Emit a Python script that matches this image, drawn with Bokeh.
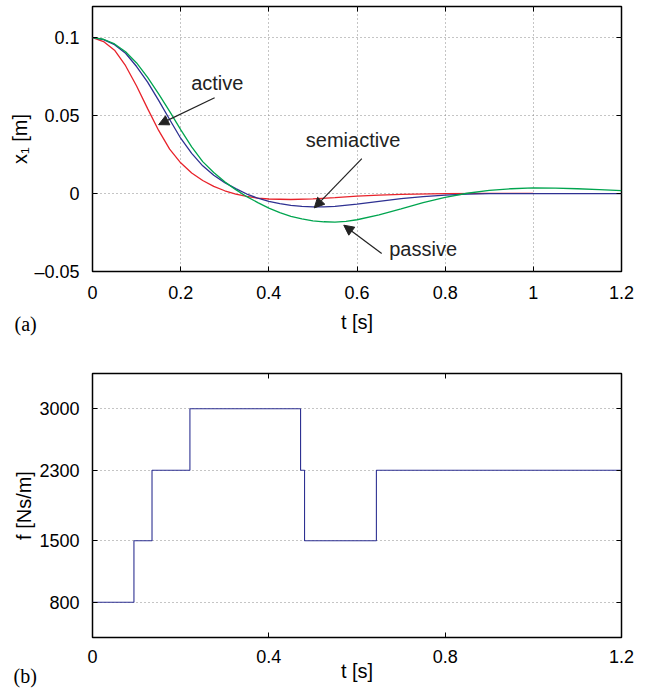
from bokeh.plotting import figure
from bokeh.models import LinearAxis, FixedTicker, Arrow, NormalHead, Label, Range1d, Title
from bokeh.layouts import column
from bokeh.embed import file_html
from bokeh.resources import INLINE

# ---------------- data: (a) displacement x1 [m] ----------------
t_active = [0, 0.025, 0.05, 0.075, 0.1, 0.125, 0.15, 0.175, 0.2, 0.225, 0.25, 0.275,
            0.3, 0.325, 0.35, 0.375, 0.4, 0.45, 0.5, 0.55, 0.6, 0.65, 0.7, 0.8, 0.9, 1.0]
x_active = [0.1000, 0.0975, 0.0920, 0.0820, 0.0690, 0.0545, 0.0405, 0.0285, 0.0197, 0.0132,
            0.0084, 0.0046, 0.0018, -0.0003, -0.0018, -0.0029, -0.0035, -0.0038, -0.0034,
            -0.0026, -0.0017, -0.0010, -0.0005, 0.0, 0.0001, 0.0001]

t_semi = [0, 0.025, 0.05, 0.075, 0.1, 0.125, 0.15, 0.175, 0.2, 0.225, 0.25, 0.275, 0.3,
          0.325, 0.35, 0.375, 0.4, 0.425, 0.45, 0.475, 0.5, 0.525, 0.55, 0.6, 0.65, 0.7,
          0.75, 0.8, 0.85, 0.9, 1.0, 1.1, 1.2]
x_semi = [0.1000, 0.0988, 0.0955, 0.0900, 0.0815, 0.0715, 0.0598, 0.0475, 0.0355, 0.0258,
          0.0178, 0.0117, 0.0070, 0.0032, -0.0003, -0.0030, -0.0050, -0.0065, -0.0076,
          -0.0082, -0.0085, -0.0085, -0.0082, -0.0068, -0.0050, -0.0033, -0.0020, -0.0010,
          -0.0004, -0.0001, 0.0, 0.0, 0.0]

t_passive = [0, 0.025, 0.05, 0.075, 0.1, 0.125, 0.15, 0.175, 0.2, 0.225, 0.25, 0.275, 0.3,
             0.325, 0.35, 0.375, 0.4, 0.425, 0.45, 0.475, 0.5, 0.525, 0.55, 0.575, 0.6,
             0.65, 0.7, 0.75, 0.8, 0.85, 0.9, 0.95, 1.0, 1.05, 1.1, 1.15, 1.2]
x_passive = [0.1000, 0.0990, 0.0960, 0.0910, 0.0838, 0.0745, 0.0640, 0.0527, 0.0410, 0.0300,
             0.0205, 0.0135, 0.0075, 0.0025, -0.0020, -0.0058, -0.0093, -0.0122, -0.0146,
             -0.0163, -0.0175, -0.0181, -0.0183, -0.0179, -0.0168, -0.0137, -0.0098, -0.0058,
             -0.0024, 0.0002, 0.0020, 0.0031, 0.0036, 0.0035, 0.0031, 0.0025, 0.0019]

xa_ticks = [0, 0.2, 0.4, 0.6, 0.8, 1.0, 1.2]
xa_tick_labels = ["0", "0.2", "0.4", "0.6", "0.8", "1", "1.2"]
ya_ticks = [-0.05, 0, 0.05, 0.1]
ya_tick_labels = ["\u20130.05", "0", "0.05", "0.1"]

# annotations (text, text position, arrow tail, arrow head)
ann_text = ["active", "semiactive", "passive"]
ann_tx = [0.283, 0.591, 0.750]
ann_ty = [0.0712, 0.0346, -0.0355]
arr_x0 = [0.277, 0.611, 0.656]
arr_y0 = [0.0615, 0.0224, -0.0385]
arr_x1 = [0.150, 0.503, 0.570]
arr_y1 = [0.0442, -0.0092, -0.0203]

# ---------------- data: (b) damping coefficient f [Ns/m] ----------------
t_switch = [0, 0.094, 0.135, 0.221, 0.472, 0.481, 0.644, 1.2]
f_level = [800, 1500, 2300, 3000, 2300, 1500, 2300, 2300]
xb_ticks = [0, 0.4, 0.8, 1.2]
xb_tick_labels = ["0", "0.4", "0.8", "1.2"]
yb_ticks = [800, 1500, 2300, 3000]

panel_tags = ["(a)", "(b)"]

FONT = "Liberation Sans"
SERIF = "Liberation Serif"
RED = "#e8232b"
BLUE = "#2e3192"
GREEN = "#00a54f"


def style_axis(ax, ticks, labels=None, show_labels=True, size="18px"):
    ax.ticker = FixedTicker(ticks=ticks)
    if labels is not None:
        ax.major_label_overrides = {t: l for t, l in zip(ticks, labels)}
    ax.axis_line_color = None
    ax.major_tick_in = 5
    ax.major_tick_out = 0
    ax.major_tick_line_color = "black"
    ax.major_tick_line_width = 1
    ax.minor_tick_line_color = None
    ax.major_label_text_font = FONT
    ax.major_label_text_color = "black"
    ax.axis_label_text_font = FONT
    ax.axis_label_text_font_style = "normal"
    ax.axis_label_text_font_size = "20px"
    ax.axis_label_text_color = "black"
    if show_labels:
        ax.major_label_text_font_size = size
    else:
        ax.major_label_text_font_size = "0px"
        ax.major_label_standoff = 0


def make_fig(xr, yr, fh, top, bottom):
    p = figure(frame_width=529, frame_height=fh, x_range=xr, y_range=yr,
               output_backend="svg", toolbar_location=None,
               min_border_left=92, min_border_right=16,
               min_border_top=top, min_border_bottom=bottom)
    p.outline_line_color = "black"
    p.outline_line_width = 1.5
    p.background_fill_color = "white"
    p.border_fill_color = "white"
    return p


def panel_tag(text, offset, standoff):
    return Title(text=text, align="left", vertical_align="top", offset=offset,
                 standoff=standoff, text_font=SERIF, text_font_size="20px",
                 text_font_style="normal", text_color="black")


# ---------------- figure (a) ----------------
p1 = make_fig(Range1d(0, 1.2), Range1d(-0.05, 0.12), 265, 6, 70)
style_axis(p1.xaxis[0], xa_ticks, xa_tick_labels)
style_axis(p1.yaxis[0], ya_ticks, ya_tick_labels)
p1.xaxis[0].major_label_standoff = 14
p1.yaxis[0].major_label_standoff = 13
p1.xaxis[0].axis_label = "t [s]"
p1.xaxis[0].axis_label_standoff = 9
p1.yaxis[0].axis_label = "x\u2081 [m]"
p1.yaxis[0].axis_label_standoff = 0
ax_top = LinearAxis()
style_axis(ax_top, xa_ticks, show_labels=False)
p1.add_layout(ax_top, "above")
ax_right = LinearAxis()
style_axis(ax_right, ya_ticks, show_labels=False)
p1.add_layout(ax_right, "right")
for g in (p1.xgrid[0], p1.ygrid[0]):
    g.grid_line_color = "#8a8a8a"
    g.grid_line_dash = "1 3"
    g.grid_line_width = 1

p1.line(t_active, x_active, line_color=RED, line_width=1.3)
p1.line(t_semi, x_semi, line_color=BLUE, line_width=1.3)
p1.line(t_passive, x_passive, line_color=GREEN, line_width=1.3)

for txt, tx, ty in zip(ann_text, ann_tx, ann_ty):
    p1.add_layout(Label(x=tx, y=ty, text=txt, text_align="center",
                        text_baseline="alphabetic", text_font=FONT,
                        text_font_size="20px", text_color="#222222"))
for x0, y0, x1, y1 in zip(arr_x0, arr_y0, arr_x1, arr_y1):
    p1.add_layout(Arrow(x_start=x0, y_start=y0, x_end=x1, y_end=y1,
                        line_color="#222222", line_width=1.2,
                        end=NormalHead(size=10, fill_color="#222222",
                                       line_color="#222222")))
p1.add_layout(panel_tag(panel_tags[0], -78, -46), "below")

# ---------------- figure (b) ----------------
p2 = make_fig(Range1d(0, 1.2), Range1d(400, 3400), 264, 32, 52)
style_axis(p2.xaxis[0], xb_ticks, xb_tick_labels)
style_axis(p2.yaxis[0], yb_ticks)
p2.xaxis[0].major_label_standoff = 12
p2.yaxis[0].major_label_standoff = 13
p2.xaxis[0].axis_label = "t [s]"
p2.xaxis[0].axis_label_standoff = -6
p2.yaxis[0].axis_label = "f [Ns/m]"
p2.yaxis[0].axis_label_standoff = 1
bx_top = LinearAxis()
style_axis(bx_top, xb_ticks, show_labels=False)
p2.add_layout(bx_top, "above")
bx_right = LinearAxis()
style_axis(bx_right, yb_ticks, show_labels=False)
p2.add_layout(bx_right, "right")
p2.xgrid[0].grid_line_color = None
p2.ygrid[0].grid_line_color = "#8a8a8a"
p2.ygrid[0].grid_line_dash = "1 3"
p2.ygrid[0].grid_line_width = 1

p2.step(t_switch, f_level, mode="after", line_color=BLUE, line_width=1.1)
p2.add_layout(panel_tag(panel_tags[1], -79, -39), "below")

layout = column(p1, p2, spacing=0)
open("out.html", "w").write(file_html(layout, INLINE))
